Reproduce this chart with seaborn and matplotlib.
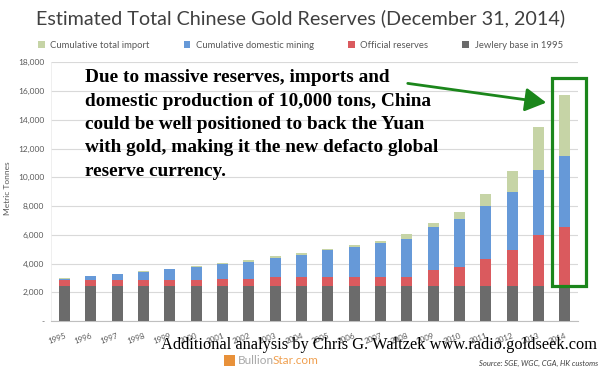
import numpy as np
import pandas as pd
import matplotlib
matplotlib.use("Agg")
import matplotlib.pyplot as plt
import seaborn as sns
from matplotlib.patches import Rectangle, FancyArrowPatch, Patch

# ---- data (tonnes) ----
years = [str(y) for y in range(1995, 2015)]
jewelry = [2450] * 20
official = [395, 395, 395, 395, 395, 395, 500, 500, 600, 600,
            600, 600, 600, 600, 1110, 1340, 1850, 2460, 3530, 4060]
mining = [105, 255, 425, 590, 745, 900, 985, 1180, 1360, 1570,
          1860, 2090, 2390, 2670, 2950, 3310, 3680, 4040, 4540, 4960]
imports = [10, 20, 30, 45, 60, 75, 85, 100, 110, 120,
           90, 120, 140, 300, 280, 510, 880, 1500, 3000, 4250]

series_names = ["Cumulative total import", "Cumulative domestic mining",
                "Official reserves", "Jewlery base in 1995"]
colors = ["#c6d4a6", "#6699d8", "#da5a5e", "#6b6b6b"]

df = pd.DataFrame({"year": years, "jewelry": jewelry, "official": official,
                   "mining": mining, "imports": imports})
df["l_jew"] = df["jewelry"]
df["l_off"] = df["l_jew"] + df["official"]
df["l_min"] = df["l_off"] + df["mining"]
df["l_imp"] = df["l_min"] + df["imports"]

sns.set_theme(style="white")
plt.rcParams["font.family"] = ["Lato", "DejaVu Sans"]

W, H = 601, 370
fig = plt.figure(figsize=(W / 100, H / 100), dpi=100)
fig.patch.set_facecolor("white")

def fx(px):
    return px / W

def fy(py):
    return 1 - py / H

ax_left, ax_right, ax_top, ax_bot = 51.3, 578.0, 62.3, 321.0
ax = fig.add_axes([fx(ax_left), fy(ax_bot), fx(ax_right - ax_left), (ax_bot - ax_top) / H])
ax.set_facecolor("white")

layers = ["l_imp", "l_min", "l_off", "l_jew"]
for col, c in zip(layers, colors):
    sns.barplot(data=df, x="year", y=col, color=c, width=0.41, ax=ax,
                saturation=1, edgecolor="none", linewidth=0, zorder=3)

ax.set_ylim(0, 18000)
ax.set_xlim(-0.5, len(years) - 0.5)
yt = np.arange(0, 18001, 2000)
ax.set_yticks(yt)
ax.set_yticklabels(["-" if v == 0 else f"{v:,}" for v in yt], fontsize=6, color="#595959")
ax.yaxis.grid(True, color="#d9d9d9", linewidth=0.8, zorder=0)
ax.set_axisbelow(True)
ax.tick_params(axis="y", length=0, pad=5)

ax.set_xticks(range(len(years)))
ax.set_xticklabels(years, fontsize=5.8, color="#595959", rotation=20,
                   ha="right", rotation_mode="anchor")
ax.tick_params(axis="x", length=0, pad=8)
ax.set_xticks(np.arange(-0.5, len(years), 1), minor=True)
ax.tick_params(axis="x", which="minor", length=3, color="#bfbfbf", width=0.6)

ax.set_xlabel("")
ax.set_ylabel("")
for s in ["top", "right"]:
    ax.spines[s].set_visible(False)
ax.spines["left"].set_color("#ececec")
ax.spines["left"].set_linewidth(0.6)
ax.spines["bottom"].set_color("#bfbfbf")
ax.spines["bottom"].set_linewidth(0.8)

fig.text(fx(7.5), fy(188), "Metric Tonnes", rotation=90, fontsize=6,
         color="#595959", ha="center", va="center")

# title
fig.text(0.5, fy(18), "Estimated Total Chinese Gold Reserves (December 31, 2014)",
         fontsize=14.2, color="#404040", ha="center", va="center")

# legend
handles = [Patch(facecolor=c, edgecolor="none") for c in colors]
leg = fig.legend(handles, series_names, loc="center", bbox_to_anchor=(0.5, fy(45)),
                 ncol=4, frameon=False, fontsize=6.8, handlelength=0.7,
                 handleheight=0.7, handletextpad=0.6, columnspacing=3.6)
for t in leg.get_texts():
    t.set_color("#595959")

# annotation text
lines = ["Due to massive reserves, imports and",
         "domestic production of 10,000 tons, China",
         "could be well positioned to back the Yuan",
         "with gold, making it the new defacto global",
         "reserve currency."]
for i, ln in enumerate(lines):
    fig.text(fx(85), fy(78 + i * 23.3), ln, fontsize=13.9, fontweight="bold",
             family="Liberation Serif", color="black", ha="left", va="center")

green = "#1b861b"
arrow = FancyArrowPatch((fx(405), fy(83)), (fx(549), fy(103)), transform=fig.transFigure,
                        arrowstyle="-|>,head_length=8,head_width=4.5", mutation_scale=1.6,
                        color=green, linewidth=2.0)
fig.add_artist(arrow)
rect = Rectangle((fx(551.7), fy(286)), fx(586 - 551.7), (286 - 78.3) / H,
                 transform=fig.transFigure, fill=False, edgecolor=green, linewidth=2.3)
fig.add_artist(rect)

# bottom texts
fig.text(fx(597), fy(345), "Additional analysis by Chris G. Waltzek www.radio.goldseek.com",
         fontsize=11.8, family="Liberation Serif", color="black", ha="right", va="center")
fig.add_artist(Rectangle((fx(224), fy(366)), fx(11), 11 / H, transform=fig.transFigure,
                         facecolor="#e8913a", edgecolor="none"))
t1 = fig.text(fx(238), fy(361), "Bullion", fontsize=8.5, color="#a8a8a8",
              ha="left", va="center")
fig.canvas.draw()
bb = t1.get_window_extent(renderer=fig.canvas.get_renderer())
fig.text((bb.x1 - 1.5) / W, fy(361), "Star.com", fontsize=8.5, color="#f0a050",
         ha="left", va="center")
fig.text(fx(598), fy(363), "Source: SGE, WGC, CGA, HK customs", fontsize=5.5,
         style="italic", color="#404040", ha="right", va="center")

fig.savefig("out.png", dpi=100, facecolor="white")
